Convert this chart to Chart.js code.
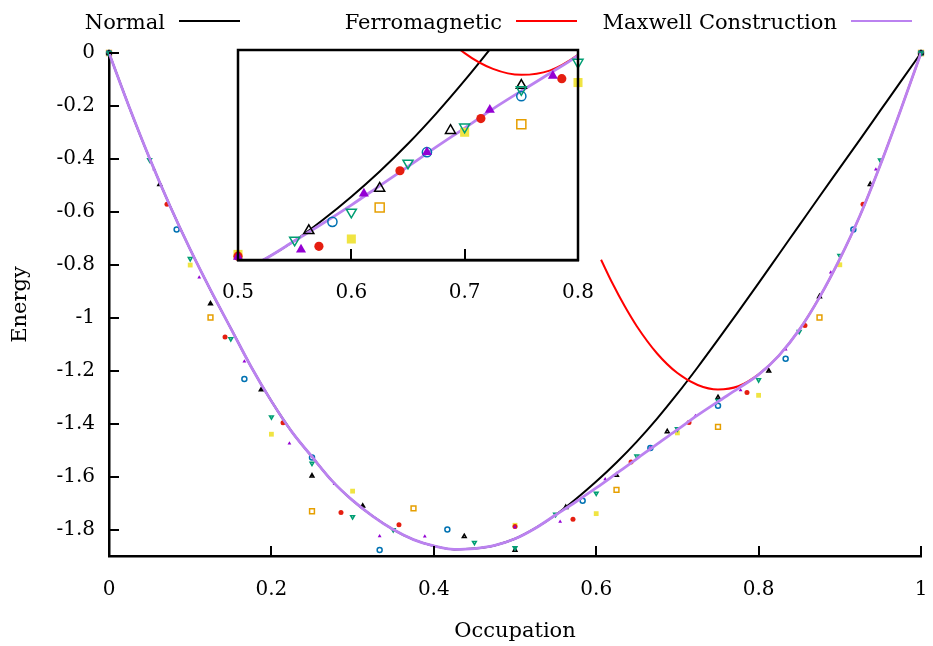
<!DOCTYPE html>
<html>
<head>
<meta charset="utf-8">
<script src="https://cdn.jsdelivr.net/npm/chart.js@4.4.1/dist/chart.umd.min.js"></script>
<style>
  html, body { margin: 0; padding: 0; background: #fff; }
  #wrap { position: relative; width: 933px; height: 646px; }
  #mainChart { position: absolute; left: 0; top: 0; }
  #insetChart { position: absolute; left: 200px; top: 40px; }
</style>
</head>
<body>
<div id="wrap">
  <canvas id="mainChart" width="933" height="646"></canvas>
  <canvas id="insetChart" width="410" height="275"></canvas>
</div>
<script>
// continuum curves, sampled on a fixed occupation grid
const gridX = [0, 0.025, 0.05, 0.075, 0.1, 0.125, 0.15, 0.175, 0.2, 0.225, 0.25, 0.275, 0.3, 0.325, 0.35, 0.375, 0.4, 0.425, 0.45, 0.475, 0.5,
  0.525, 0.55, 0.575, 0.6, 0.625, 0.65, 0.675, 0.7, 0.725, 0.75, 0.775, 0.8, 0.825, 0.85, 0.875, 0.9, 0.925, 0.95, 0.975, 1];
const normalE = [0, -0.205, -0.398, -0.577, -0.742, -0.895, -1.04, -1.185, -1.315, -1.43, -1.525, -1.617, -1.69, -1.75, -1.8, -1.838, -1.862, -1.875, -1.872, -1.86, -1.835,
  -1.795, -1.745, -1.685, -1.619, -1.547, -1.468, -1.381, -1.287, -1.187, -1.083, -0.977, -0.869, -0.76, -0.651, -0.542, -0.434, -0.326, -0.217, -0.108, 0];
const maxwellE = [0, -0.205, -0.398, -0.577, -0.742, -0.895, -1.04, -1.185, -1.315, -1.43, -1.525, -1.617, -1.69, -1.75, -1.8, -1.838, -1.862, -1.875, -1.872, -1.86, -1.835,
  -1.795, -1.745, -1.695, -1.643, -1.588, -1.533, -1.477, -1.423, -1.368, -1.317, -1.267, -1.215, -1.143, -1.046, -0.923, -0.778, -0.613, -0.422, -0.215, 0];
const ferroX = [0.606, 0.62, 0.635, 0.65, 0.675, 0.7, 0.725, 0.75, 0.775, 0.8, 0.825, 0.85, 0.875, 0.9, 0.925, 0.95, 0.975, 1];
const ferroE = [-0.781, -0.87, -0.956, -1.032, -1.135, -1.209, -1.254, -1.271, -1.259, -1.214, -1.143, -1.046, -0.923, -0.778, -0.613, -0.422, -0.215, 0];

// finite-size points, one pair per system size
const x8 = [0, 0.125, 0.25, 0.375, 0.625, 0.75, 0.875, 1];
const e8 = [0, -0.999, -1.731, -1.72, -1.65, -1.412, -0.999, 0];
const x10 = [0, 0.1, 0.2, 0.3, 0.5, 0.6, 0.7, 0.8, 0.9, 1];
const e10 = [0, -0.801, -1.44, -1.655, -1.784, -1.74, -1.435, -1.293, -0.8, 0];
const x12 = [0, 0.0833, 0.1667, 0.25, 0.3333, 0.4167, 0.5833, 0.6667, 0.75, 0.8333, 0.9167, 1];
const e12 = [0, -0.667, -1.231, -1.528, -1.877, -1.8, -1.691, -1.492, -1.332, -1.155, -0.667, 0];
const x14 = [0, 0.0714, 0.1429, 0.2143, 0.2857, 0.3571, 0.5, 0.5714, 0.6429, 0.7143, 0.7857, 0.8571, 0.9286, 1];
const e14 = [0, -0.571, -1.073, -1.397, -1.736, -1.782, -1.789, -1.761, -1.545, -1.396, -1.282, -1.029, -0.571, 0];
const x16 = [0, 0.0625, 0.125, 0.1875, 0.25, 0.3125, 0.4375, 0.5, 0.5625, 0.625, 0.6875, 0.75, 0.8125, 0.875, 0.9375, 1];
const e16 = [0, -0.496, -0.947, -1.272, -1.597, -1.711, -1.826, -1.878, -1.716, -1.595, -1.43, -1.301, -1.201, -0.92, -0.496, 0];
const x18 = [0, 0.0556, 0.1111, 0.1667, 0.2222, 0.2778, 0.3333, 0.3889, 0.5, 0.5556, 0.6111, 0.6667, 0.7222, 0.7778, 0.8333, 0.8889, 0.9444, 1];
const e18 = [0, -0.439, -0.848, -1.165, -1.475, -1.628, -1.825, -1.826, -1.791, -1.77, -1.61, -1.492, -1.371, -1.274, -1.12, -0.829, -0.44, 0];
const x20 = [0, 0.05, 0.1, 0.15, 0.2, 0.25, 0.3, 0.35, 0.45, 0.5, 0.55, 0.6, 0.65, 0.7, 0.75, 0.8, 0.85, 0.9, 0.95, 1];
const e20 = [0, -0.404, -0.777, -1.08, -1.375, -1.55, -1.752, -1.801, -1.849, -1.869, -1.743, -1.663, -1.523, -1.42, -1.313, -1.235, -1.052, -0.765, -0.405, 0];

const xTicks = [0, 0.2, 0.4, 0.6, 0.8, 1];
const yTicks = [0, -0.2, -0.4, -0.6, -0.8, -1, -1.2, -1.4, -1.6, -1.8];
const insetTicks = [0.5, 0.6, 0.7, 0.8];

const serif = "'DejaVu Serif', serif";
Chart.defaults.font.family = serif;
Chart.defaults.color = '#000';

function pts(xs, ys) {
  return xs.map((x, i) => ({ x: x, y: ys[i] }));
}

const sizes = [
  { xs: x20, ys: e20, color: '#009e73', shape: 'triangle', filled: false, rot: 180 },
  { xs: x18, ys: e18, color: '#9400d3', shape: 'triangle', filled: true },
  { xs: x16, ys: e16, color: '#000000', shape: 'triangle', filled: false },
  { xs: x14, ys: e14, color: '#e51e10', shape: 'circle', filled: true },
  { xs: x12, ys: e12, color: '#0072b2', shape: 'circle', filled: false },
  { xs: x10, ys: e10, color: '#f0e442', shape: 'rect', filled: true },
  { xs: x8, ys: e8, color: '#e69f00', shape: 'rect', filled: false }
];

// marker radius per shape: small in the main plot, larger in the inset
const mainRadius = { triangle: 2.2, circle: 2.5, rect: 3.4 };
const insetRadius = { triangle: 5.8, circle: 4.6, rect: 6.4 };

function pointSets(radius, filter, firstOrder) {
  return sizes.map((s, i) => ({
    label: 'N' + i,
    data: pts(s.xs, s.ys).filter(filter),
    showLine: false,
    pointStyle: s.shape,
    rotation: s.rot || 0,
    pointRadius: radius[s.shape],
    pointHoverRadius: radius[s.shape],
    pointBorderWidth: s.filled ? 0 : 1.5,
    pointBorderColor: s.color,
    pointBackgroundColor: s.filled ? s.color : 'rgba(0,0,0,0)',
    clip: false,
    order: firstOrder + i
  }));
}

function curveSets(firstOrder) {
  const base = { showLine: true, pointRadius: 0, cubicInterpolationMode: 'monotone', fill: false };
  return [
    Object.assign({}, base, { label: 'Maxwell Construction', data: pts(gridX, maxwellE), borderColor: '#bb82f0', borderWidth: 2.8, order: firstOrder }),
    Object.assign({}, base, { label: 'Ferromagnetic', data: pts(ferroX, ferroE), borderColor: '#ff0000', borderWidth: 2, order: firstOrder + 1 }),
    Object.assign({}, base, { label: 'Normal', data: pts(gridX, normalE), borderColor: '#000000', borderWidth: 2, order: firstOrder + 2 })
  ];
}

// gnuplot style ticks pointing into the plot, plus optional full frame
const innerTicks = {
  id: 'innerTicks',
  afterDatasetsDraw(chart, args, opts) {
    const { ctx, chartArea: a, scales } = chart;
    ctx.save();
    ctx.strokeStyle = '#000';
    ctx.lineWidth = 2;
    ctx.beginPath();
    scales.x.ticks.forEach(t => {
      const px = Math.round(scales.x.getPixelForValue(t.value));
      ctx.moveTo(px, a.bottom);
      ctx.lineTo(px, a.bottom - opts.len);
    });
    if (opts.yTicks) {
      scales.y.ticks.forEach(t => {
        const py = Math.round(scales.y.getPixelForValue(t.value));
        ctx.moveTo(a.left, py);
        ctx.lineTo(a.left + opts.len, py);
      });
    }
    ctx.stroke();
    if (opts.frame) {
      ctx.lineWidth = 2.5;
      ctx.strokeRect(a.left, a.top, a.right - a.left, a.bottom - a.top);
    }
    ctx.restore();
  }
};

// key laid out like gnuplot: text first, then a line sample
const gnuKey = {
  id: 'gnuKey',
  afterDraw(chart, args, opts) {
    const ctx = chart.ctx;
    ctx.save();
    ctx.font = opts.font;
    ctx.textAlign = 'right';
    ctx.textBaseline = 'alphabetic';
    opts.entries.forEach((label, i) => {
      const ds = chart.data.datasets.find(d => d.label === label);
      const end = opts.ends[i];
      ctx.fillStyle = '#000';
      ctx.fillText(label, end - opts.sample - opts.gap, opts.y + 8);
      ctx.strokeStyle = ds.borderColor;
      ctx.lineWidth = 2;
      ctx.beginPath();
      ctx.moveTo(end - opts.sample, opts.y);
      ctx.lineTo(end, opts.y);
      ctx.stroke();
    });
    ctx.restore();
  }
};

const fmt = v => String(+Number(v).toFixed(1));
// keep the label overhang from squeezing the plot area
const noOverhang = (h) => s => { s.height = h; s.paddingLeft = 0; s.paddingRight = 0; };

new Chart(document.getElementById('mainChart'), {
  type: 'scatter',
  data: { datasets: curveSets(0).concat(pointSets(mainRadius, () => true, 3)) },
  options: {
    responsive: false,
    animation: false,
    layout: { padding: { left: 0, right: 12, top: 53, bottom: 0 } },
    plugins: {
      legend: { display: false },
      tooltip: { enabled: false },
      innerTicks: { len: 10, yTicks: true },
      gnuKey: {
        entries: ['Normal', 'Ferromagnetic', 'Maxwell Construction'],
        ends: [240, 577, 912], sample: 61, gap: 14, y: 21,
        font: "21px " + serif
      }
    },
    scales: {
      x: {
        type: 'linear', min: 0, max: 1,
        afterBuildTicks: s => { s.ticks = xTicks.map(v => ({ value: v })); },
        afterFit: noOverhang(90),
        grid: { display: false, drawTicks: false },
        border: { display: true, color: '#000', width: 2.5 },
        ticks: { font: { size: 20 }, padding: 22, maxRotation: 0, callback: fmt },
        title: { display: true, text: 'Occupation', font: { size: 21 }, padding: { top: 0, bottom: 2 } }
      },
      y: {
        type: 'linear', min: -1.9, max: 0,
        afterBuildTicks: s => { s.ticks = yTicks.map(v => ({ value: v })); },
        afterFit: s => { s.width = 109; },
        grid: { display: false, drawTicks: false },
        border: { display: true, color: '#000', width: 2.5 },
        ticks: { font: { size: 20 }, padding: 14, callback: fmt },
        title: { display: true, text: 'Energy', font: { size: 21 }, padding: { top: 8, bottom: 0 } }
      }
    }
  },
  plugins: [innerTicks, gnuKey]
});

const inRange = p => p.x >= 0.499 && p.x <= 0.801 && p.y >= -1.801 && p.y <= -1.199;

new Chart(document.getElementById('insetChart'), {
  type: 'scatter',
  data: { datasets: pointSets(insetRadius, inRange, 0).concat(curveSets(7)) },
  options: {
    responsive: false,
    animation: false,
    layout: { padding: { left: 38, right: 32, top: 10, bottom: 0 } },
    plugins: {
      legend: { display: false },
      tooltip: { enabled: false },
      innerTicks: { len: 11, yTicks: false, frame: true }
    },
    scales: {
      x: {
        type: 'linear', min: 0.5, max: 0.8,
        afterBuildTicks: s => { s.ticks = insetTicks.map(v => ({ value: v })); },
        afterFit: noOverhang(55),
        grid: { display: false, drawTicks: false },
        border: { display: true, color: '#000', width: 2.5 },
        ticks: { font: { size: 20 }, padding: 21, maxRotation: 0, callback: fmt }
      },
      y: { type: 'linear', min: -1.8, max: -1.2, display: false }
    }
  },
  plugins: [innerTicks]
});
</script>
</body>
</html>
